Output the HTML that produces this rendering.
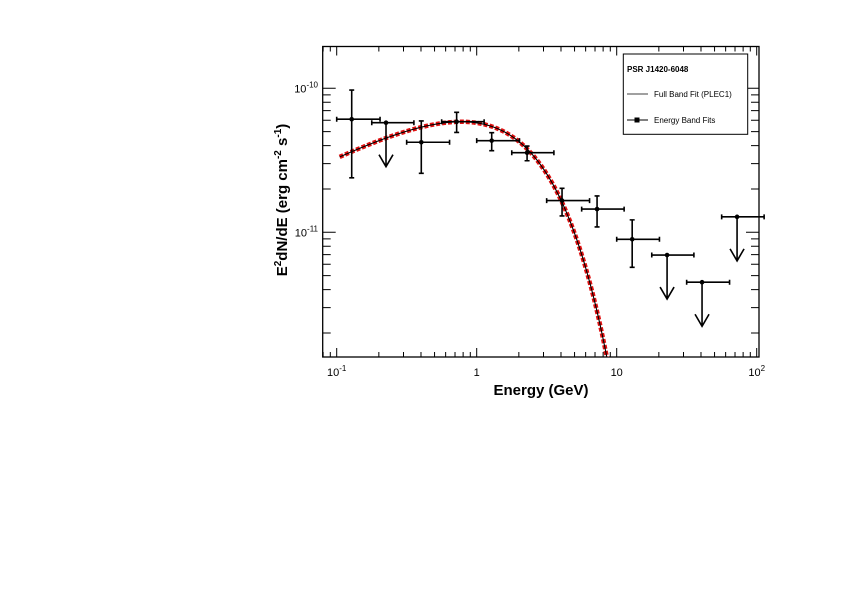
<!DOCTYPE html>
<html><head><meta charset="utf-8"><style>
body{margin:0;background:#fff}
svg{display:block;font-family:"Liberation Sans",sans-serif}
</style></head><body>
<svg id="chart" width="842" height="595" viewBox="0 0 842 595">
<defs><clipPath id="clip"><rect x="322.7" y="46.5" width="436.3" height="310.5"/></clipPath></defs>
<g id="axes"></g>
<g id="curve" clip-path="url(#clip)"></g>
<g id="points"></g>
<g>
<rect x="623.3" y="54" width="124.4" height="80.3" fill="#fff" stroke="#000" stroke-width="1"/>
<text x="627" y="72" font-size="8" font-weight="bold">PSR J1420-6048</text>
<line x1="627" y1="94" x2="648" y2="94" stroke="#000" stroke-width="0.8"/>
<text x="654" y="97" font-size="8">Full Band Fit (PLEC1)</text>
<line x1="627" y1="120" x2="648" y2="120" stroke="#000" stroke-width="1"/>
<rect x="634.5" y="117.5" width="5" height="5" fill="#000"/>
<text x="654" y="123" font-size="8">Energy Band Fits</text>
</g>
<text x="541" y="395" font-size="15" font-weight="bold" text-anchor="middle">Energy (GeV)</text>
<text transform="translate(287,200) rotate(-90)" font-size="15" font-weight="bold" text-anchor="middle">E<tspan font-size="10" dy="-6">2</tspan><tspan dy="6">dN/dE (erg cm</tspan><tspan font-size="10" dy="-6">-2</tspan><tspan dy="6"> s</tspan><tspan font-size="10" dy="-6">-1</tspan><tspan dy="6">)</tspan></text>
</svg>
<script>
// data (flux in units of 1e-11 erg cm^-2 s^-1, energy in GeV)
const energies = [0.128,0.225,0.402,0.719,1.28,2.29,4.07,7.24,12.9,22.9,40.7,72.4];
const eLow =     [0.100,0.178,0.316,0.562,1.00,1.78,3.16,5.62,10.0,17.8,31.6,56.2];
const eHigh =    [0.204,0.356,0.640,1.13,2.02,3.56,6.40,11.3,20.2,35.6,64.0,113];
const flux =     [6.10,5.77,4.22,5.86,4.33,3.57,1.66,1.45,0.894,0.695,0.450,1.28];
const fluxLow =  [2.39,0,2.57,4.94,3.69,3.14,1.30,1.09,0.571,0,0,0];
const fluxHigh = [9.72,0,5.93,6.81,4.92,3.97,2.02,1.79,1.22,0,0,0];
const isUpperLimit = [false,true,false,false,false,false,false,false,false,true,true,true];
// PLEC1 model parameters
const modelNorm = 1.092e-10;
const modelIndex = 1.504;
const modelCutoff = 1.56;
const xTickLabels = ["10<tspan font-size='8' dy='-5'>-1</tspan>","1","10","10<tspan font-size='8' dy='-5'>2</tspan>"];
const xTickValues = [0.1,1,10,100];
const yTickValues = [1e-11,1e-10];
const yTickLabels = ["10<tspan font-size='8' dy='-5'>-11</tspan>","10<tspan font-size='8' dy='-5'>-10</tspan>"];

const L=322.7,R=759,T=46.5,B=357;
const X=e=>476.7+140*Math.log10(e);
const Y=f=>88.3-144*(Math.log10(f)+10);
const NS="http://www.w3.org/2000/svg";
function mk(tag,attrs,parent){const el=document.createElementNS(NS,tag);for(const k in attrs)el.setAttribute(k,attrs[k]);parent.appendChild(el);return el;}
const axes=document.getElementById('axes');
let fr=mk('rect',{x:L,y:T,width:R-L,height:B-T,fill:'none',stroke:'#000','stroke-width':1.3},axes);


let tp='';
for(let d=-2;d<=2;d++)for(let m=1;m<10;m++){const e=m*Math.pow(10,d);const x=X(e);if(x<L||x>R)continue;const len=m===1?9:5;tp+=`M${x},${B}v${-len}M${x},${T}v${len}`;}
for(let d=-12;d<=-10;d++)for(let m=1;m<10;m++){const f=m*Math.pow(10,d);const y=Y(f);if(y<T||y>B)continue;const len=m===1?13:8;tp+=`M${L},${y}h${len}M${R},${y}h${-len}`;}
let tk=mk('path',{d:tp,stroke:'#000','stroke-width':1,fill:'none'},axes);


xTickValues.forEach((v,i)=>{const t=mk('text',{x:X(v),y:376,'font-size':11,'text-anchor':'middle'},axes);t.innerHTML=xTickLabels[i];

});
yTickValues.forEach((v,i)=>{const t=mk('text',{x:318,y:Y(v)+4,'font-size':11,'text-anchor':'end'},axes);t.innerHTML=yTickLabels[i];

});
const model=e=>modelNorm*Math.pow(e,2-modelIndex)*Math.exp(-e/modelCutoff);
let pd='';for(let i=0;i<=400;i++){const e=0.105*Math.pow(10,i*2.0/400);const f=model(e);if(f<1e-13)break;pd+=(i?'L':'M')+X(e).toFixed(2)+','+Y(f).toFixed(2);}
const cg=document.getElementById('curve');
let c1=mk('path',{d:pd,stroke:'#e01010','stroke-width':4.5,'stroke-dasharray':'4,2',fill:'none'},cg);


let c2=mk('path',{d:pd,stroke:'#000','stroke-width':1.1,fill:'none'},cg);


const pg=document.getElementById('points');
energies.forEach((e,i)=>{
 const x=X(e),y=Y(flux[i]*1e-11);
 let s=`M${X(eLow[i])},${y}H${X(eHigh[i])}M${X(eLow[i])},${y-2.5}v5M${X(eHigh[i])},${y-2.5}v5`;
 if(isUpperLimit[i]){const y2=y+44;s+=`M${x},${y}V${y2}M${x-7},${y2-12}L${x},${y2}L${x+7},${y2-12}`;}
 else{const y1=Y(fluxHigh[i]*1e-11),y2=Y(fluxLow[i]*1e-11);s+=`M${x},${y1}V${y2}M${x-2.5},${y1}h5M${x-2.5},${y2}h5`;}
 const g=mk('g',{},pg);
 
 
 mk('path',{d:s,stroke:'#000','stroke-width':1.6,fill:'none'},g);
 mk('circle',{cx:x,cy:y,r:2.3,fill:'#000'},g);
});
</script>
</body></html>
